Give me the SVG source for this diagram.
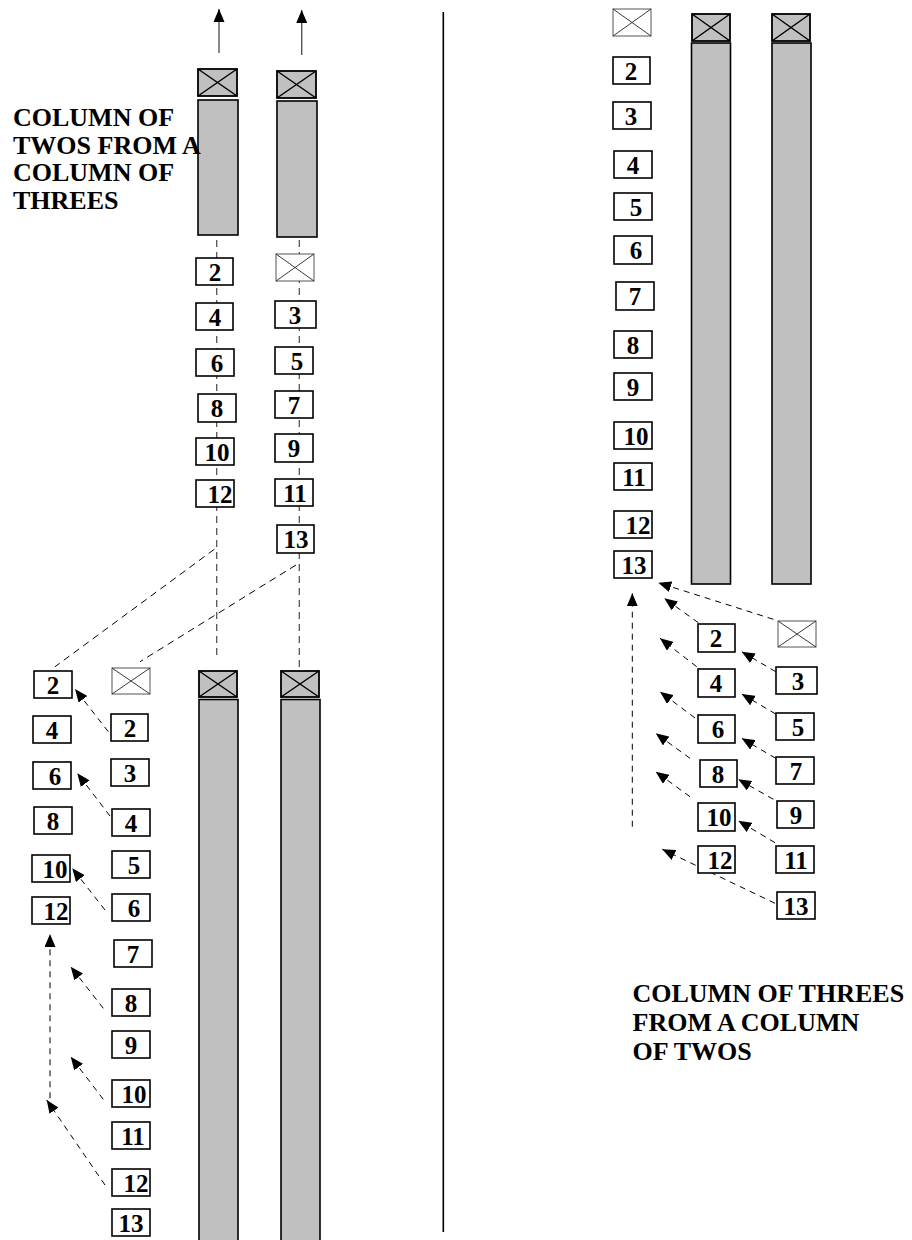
<svg xmlns="http://www.w3.org/2000/svg" width="912" height="1240" viewBox="0 0 912 1240">
<style>
.bg{fill:#fff}
.col{fill:#c0c0c0;stroke:#000;stroke-width:1.6}
.gx{fill:#c0c0c0;stroke:#000;stroke-width:1.8}
.gxl{stroke:#000;stroke-width:1.5;fill:none}
.ox{fill:#fff;stroke:#555;stroke-width:1}
.oxl{stroke:#222;stroke-width:0.9;fill:none}
.nb{fill:#fff;stroke:#000;stroke-width:1.6}
.d{font-family:"Liberation Serif","Times New Roman",serif;font-weight:bold;font-size:25px;text-anchor:middle;fill:#000}
.t{font-family:"Liberation Serif","Times New Roman",serif;font-weight:bold;font-size:26px;fill:#000}
.vd{stroke:#555;stroke-width:1.3;stroke-dasharray:7 5;fill:none}
.dg{stroke:#000;stroke-width:1;stroke-dasharray:7 5;fill:none}
.ar{stroke:#000;stroke-width:1;stroke-dasharray:6 5;fill:none;marker-end:url(#ah)}
.sa{stroke:#555;stroke-width:1.4;fill:none;marker-end:url(#ah)}
.div{stroke:#000;stroke-width:1.6}
</style>
<defs>
<marker id="ah" viewBox="0 0 13 11" refX="13" refY="5.5" markerWidth="13" markerHeight="11" markerUnits="userSpaceOnUse" orient="auto">
<path d="M0,0 L13,5.5 L0,11 z" fill="#000"/>
</marker>
</defs>
<rect class="bg" x="0" y="0" width="912" height="1240"/>

<g id="connectors">
<line class="div" x1="443.3" y1="12" x2="443.3" y2="1232"/>
<line class="sa" x1="219" y1="53" x2="219" y2="9"/>
<line class="sa" x1="301.7" y1="55" x2="301.7" y2="10"/>
<line class="vd" x1="216.7" y1="240" x2="216.7" y2="659"/>
<line class="vd" x1="299.3" y1="240" x2="299.3" y2="667"/>
<line class="dg" x1="214.3" y1="549.3" x2="55" y2="666.7"/>
<line class="dg" x1="296" y1="565" x2="140" y2="661.7"/>
<line class="ar" x1="108.3" y1="731.7" x2="75" y2="689"/>
<line class="ar" x1="110" y1="816" x2="77.3" y2="773.3"/>
<line class="ar" x1="105" y1="910" x2="72.3" y2="868.3"/>
<line class="ar" x1="103.3" y1="1008.3" x2="70.7" y2="966.7"/>
<line class="ar" x1="103.3" y1="1099.3" x2="70.7" y2="1056.7"/>
<line class="ar" x1="105" y1="1185" x2="46.7" y2="1100"/>
<line class="ar" x1="50" y1="1098.3" x2="50" y2="934"/>
<line class="ar" x1="773.3" y1="619.3" x2="658.3" y2="582.7"/>
<line class="ar" x1="698.3" y1="622.7" x2="664.3" y2="598.3"/>
<line class="ar" x1="775.7" y1="671.7" x2="741.7" y2="651.7"/>
<line class="ar" x1="696.7" y1="666.7" x2="660" y2="638.3"/>
<line class="ar" x1="775.7" y1="714" x2="741.7" y2="694"/>
<line class="ar" x1="695" y1="718" x2="660" y2="691.7"/>
<line class="ar" x1="775.7" y1="758.3" x2="741.7" y2="738.3"/>
<line class="ar" x1="690" y1="758.3" x2="655.7" y2="733.3"/>
<line class="ar" x1="773.3" y1="799.3" x2="738.3" y2="779.3"/>
<line class="ar" x1="690" y1="796.7" x2="655.7" y2="771.7"/>
<line class="ar" x1="775" y1="842.7" x2="738.3" y2="820.7"/>
<line class="ar" x1="775" y1="903.3" x2="662.3" y2="849.3"/>
<line class="ar" x1="632.3" y1="826.7" x2="632.3" y2="593.3"/>
</g>

<!-- top-left section: column of twos -->
<g id="tl-lead1"><rect class="gx" x="198" y="69" width="39" height="27"/><path class="gxl" d="M198,69 L237,96 M237,69 L198,96"/></g>
<g id="tl-col1"><rect class="col" x="198" y="100" width="40" height="135"/></g>
<g id="tl-lead2"><rect class="gx" x="277" y="71" width="39" height="27"/><path class="gxl" d="M277,71 L316,98 M316,71 L277,98"/></g>
<g id="tl-col2"><rect class="col" x="277" y="101" width="40" height="136"/></g>

<g id="tl-a2"><rect class="nb" x="196" y="258" width="37" height="27"/><text class="d" x="215" y="281">2</text></g>
<g id="tl-a4"><rect class="nb" x="196" y="303" width="37" height="27"/><text class="d" x="215" y="326">4</text></g>
<g id="tl-a6"><rect class="nb" x="196" y="349" width="38" height="27"/><text class="d" x="217" y="372">6</text></g>
<g id="tl-a8"><rect class="nb" x="198" y="394" width="38" height="28"/><text class="d" x="217" y="417">8</text></g>
<g id="tl-a10"><rect class="nb" x="196" y="438" width="38" height="27"/><text class="d" x="217" y="461">10</text></g>
<g id="tl-a12"><rect class="nb" x="196" y="480" width="38" height="27"/><text class="d" x="220" y="503">12</text></g>

<g id="tl-bx"><rect class="ox" x="276" y="254" width="38" height="27"/><path class="oxl" d="M276,254 L314,281 M314,254 L276,281"/></g>
<g id="tl-b3"><rect class="nb" x="275" y="301" width="41" height="27"/><text class="d" x="295" y="324">3</text></g>
<g id="tl-b5"><rect class="nb" x="275" y="347" width="38" height="27"/><text class="d" x="297" y="370">5</text></g>
<g id="tl-b7"><rect class="nb" x="275" y="391" width="38" height="27"/><text class="d" x="294" y="414">7</text></g>
<g id="tl-b9"><rect class="nb" x="275" y="434" width="38" height="28"/><text class="d" x="294" y="457">9</text></g>
<g id="tl-b11"><rect class="nb" x="275" y="479" width="38" height="27"/><text class="d" x="295" y="502">11</text></g>
<g id="tl-b13"><rect class="nb" x="277" y="525" width="37" height="28"/><text class="d" x="296" y="548">13</text></g>

<g id="label-left">
<text class="t" x="13" y="126">COLUMN OF</text>
<text class="t" x="13" y="153.5">TWOS FROM A</text>
<text class="t" x="13" y="181">COLUMN OF</text>
<text class="t" x="13" y="208.5">THREES</text>
</g>

<!-- bottom-left section -->
<g id="bl-lead1"><rect class="gx" x="199" y="671" width="38" height="26"/><path class="gxl" d="M199,671 L237,697 M237,671 L199,697"/></g>
<g id="bl-col1"><rect class="col" x="199" y="699.5" width="39" height="545"/></g>
<g id="bl-lead2"><rect class="gx" x="281" y="671" width="38" height="26"/><path class="gxl" d="M281,671 L319,697 M319,671 L281,697"/></g>
<g id="bl-col2"><rect class="col" x="281" y="699.5" width="39" height="545"/></g>

<g id="bl-l2"><rect class="nb" x="34" y="671" width="38" height="27"/><text class="d" x="53" y="694">2</text></g>
<g id="bl-l4"><rect class="nb" x="33" y="716" width="38" height="27"/><text class="d" x="52" y="739">4</text></g>
<g id="bl-l6"><rect class="nb" x="33" y="762" width="38" height="27"/><text class="d" x="55" y="785">6</text></g>
<g id="bl-l8"><rect class="nb" x="34" y="807" width="38" height="27"/><text class="d" x="53" y="830">8</text></g>
<g id="bl-l10"><rect class="nb" x="32" y="855" width="38" height="27"/><text class="d" x="55" y="878">10</text></g>
<g id="bl-l12"><rect class="nb" x="32" y="897" width="38" height="27"/><text class="d" x="56" y="920">12</text></g>

<g id="bl-rx"><rect class="ox" x="112" y="668" width="38" height="26"/><path class="oxl" d="M112,668 L150,694 M150,668 L112,694"/></g>
<g id="bl-r2"><rect class="nb" x="111" y="714" width="37" height="27"/><text class="d" x="130" y="737">2</text></g>
<g id="bl-r3"><rect class="nb" x="111" y="759" width="38" height="27"/><text class="d" x="130" y="782">3</text></g>
<g id="bl-r4"><rect class="nb" x="112" y="809" width="38" height="27"/><text class="d" x="131" y="832">4</text></g>
<g id="bl-r5"><rect class="nb" x="112" y="851" width="38" height="27"/><text class="d" x="134" y="874">5</text></g>
<g id="bl-r6"><rect class="nb" x="112" y="894" width="38" height="27"/><text class="d" x="134" y="917">6</text></g>
<g id="bl-r7"><rect class="nb" x="114" y="940" width="38" height="27"/><text class="d" x="133" y="963">7</text></g>
<g id="bl-r8"><rect class="nb" x="112" y="989" width="38" height="27"/><text class="d" x="131" y="1012">8</text></g>
<g id="bl-r9"><rect class="nb" x="112" y="1031" width="38" height="27"/><text class="d" x="131" y="1054">9</text></g>
<g id="bl-r10"><rect class="nb" x="112" y="1080" width="38" height="27"/><text class="d" x="134" y="1103">10</text></g>
<g id="bl-r11"><rect class="nb" x="112" y="1122" width="38" height="27"/><text class="d" x="133" y="1145">11</text></g>
<g id="bl-r12"><rect class="nb" x="112" y="1169" width="38" height="27"/><text class="d" x="136" y="1192">12</text></g>
<g id="bl-r13"><rect class="nb" x="112" y="1209" width="38" height="27"/><text class="d" x="131" y="1232">13</text></g>

<!-- right section -->
<g id="r-lx"><rect class="ox" x="613" y="9" width="38" height="27"/><path class="oxl" d="M613,9 L651,36 M651,9 L613,36"/></g>
<g id="r-lead1"><rect class="gx" x="692" y="14" width="38" height="27"/><path class="gxl" d="M692,14 L730,41 M730,14 L692,41"/></g>
<g id="r-col1"><rect class="col" x="691.5" y="43" width="39" height="541"/></g>
<g id="r-lead2"><rect class="gx" x="772" y="14" width="38" height="27"/><path class="gxl" d="M772,14 L810,41 M810,14 L772,41"/></g>
<g id="r-col2"><rect class="col" x="772" y="43" width="39" height="541"/></g>

<g id="r-l2"><rect class="nb" x="613" y="57" width="37" height="27"/><text class="d" x="631" y="80">2</text></g>
<g id="r-l3"><rect class="nb" x="613" y="102" width="38" height="27"/><text class="d" x="631" y="125">3</text></g>
<g id="r-l4"><rect class="nb" x="614" y="151" width="38" height="27"/><text class="d" x="633" y="174">4</text></g>
<g id="r-l5"><rect class="nb" x="614" y="193" width="38" height="27"/><text class="d" x="636" y="216">5</text></g>
<g id="r-l6"><rect class="nb" x="614" y="236" width="38" height="28"/><text class="d" x="636" y="259">6</text></g>
<g id="r-l7"><rect class="nb" x="616" y="282" width="38" height="28"/><text class="d" x="635" y="305">7</text></g>
<g id="r-l8"><rect class="nb" x="614" y="331" width="38" height="27"/><text class="d" x="633" y="354">8</text></g>
<g id="r-l9"><rect class="nb" x="614" y="373" width="38" height="27"/><text class="d" x="633" y="396">9</text></g>
<g id="r-l10"><rect class="nb" x="614" y="422" width="38" height="27"/><text class="d" x="636" y="445">10</text></g>
<g id="r-l11"><rect class="nb" x="614" y="463" width="38" height="27"/><text class="d" x="634" y="486">11</text></g>
<g id="r-l12"><rect class="nb" x="614" y="511" width="38" height="27"/><text class="d" x="638" y="534">12</text></g>
<g id="r-l13"><rect class="nb" x="614" y="551" width="38" height="27"/><text class="d" x="634" y="574">13</text></g>

<g id="r-m2"><rect class="nb" x="698" y="624" width="37" height="28"/><text class="d" x="716" y="647">2</text></g>
<g id="r-m4"><rect class="nb" x="698" y="669" width="37" height="28"/><text class="d" x="716" y="692">4</text></g>
<g id="r-m6"><rect class="nb" x="698" y="715" width="37" height="28"/><text class="d" x="718" y="738">6</text></g>
<g id="r-m8"><rect class="nb" x="700" y="760" width="37" height="27"/><text class="d" x="718" y="783">8</text></g>
<g id="r-m10"><rect class="nb" x="698" y="803" width="37" height="28"/><text class="d" x="719" y="826">10</text></g>
<g id="r-m12"><rect class="nb" x="698" y="846" width="37" height="27"/><text class="d" x="720" y="869">12</text></g>

<g id="r-rx"><rect class="ox" x="778" y="621" width="38" height="26"/><path class="oxl" d="M778,621 L816,647 M816,621 L778,647"/></g>
<g id="r-r3"><rect class="nb" x="776" y="667" width="41" height="27"/><text class="d" x="798" y="690">3</text></g>
<g id="r-r5"><rect class="nb" x="776" y="713" width="38" height="27"/><text class="d" x="798" y="736">5</text></g>
<g id="r-r7"><rect class="nb" x="776" y="757" width="38" height="27"/><text class="d" x="796" y="780">7</text></g>
<g id="r-r9"><rect class="nb" x="777" y="801" width="37" height="27"/><text class="d" x="796" y="824">9</text></g>
<g id="r-r11"><rect class="nb" x="776" y="846" width="38" height="27"/><text class="d" x="796" y="869">11</text></g>
<g id="r-r13"><rect class="nb" x="777" y="892" width="38" height="27"/><text class="d" x="796" y="915">13</text></g>

<g id="label-right">
<text class="t" x="632.5" y="1002">COLUMN OF THREES</text>
<text class="t" x="632.5" y="1031">FROM A COLUMN</text>
<text class="t" x="632.5" y="1060">OF TWOS</text>
</g>
</svg>
